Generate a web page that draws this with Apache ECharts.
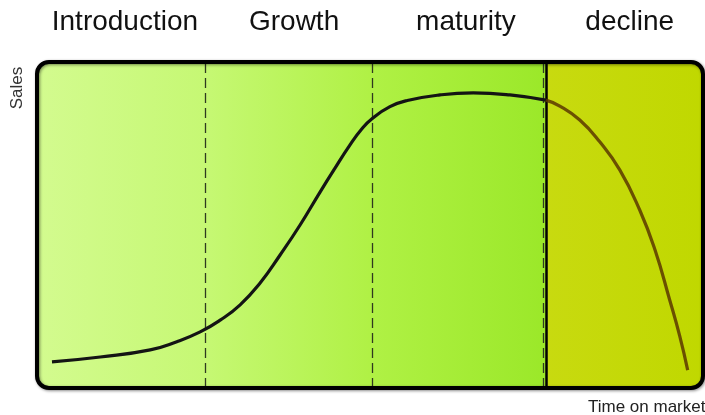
<!DOCTYPE html>
<html>
<head>
<meta charset="utf-8">
<script src="https://cdn.jsdelivr.net/npm/echarts@6/dist/echarts.min.js"></script>
<style>html,body{margin:0;padding:0;background:#fff}#c{width:705px;height:415px}</style>
</head>
<body>
<div id="c"></div>
<script>
// Stage names and label positions (x in "time" units 0..100)
const stageNames = ['Introduction', 'Growth', 'maturity', 'decline'];
const stageLabelX = [13.2, 38.6, 64.4, 89.0];
// Stage boundaries (dashed dividers) and start of decline block
const dividerX = [25.2, 50.3, 76.0];
const declineStart = 76.4;
// Sales curve: introduction → maturity (black)
const salesMain = [
  [2.25, 8.0], [9.5, 9.5], [17.0, 11.7], [21.0, 14.2], [24.5, 17.2], [27.5, 20.8],
  [30.5, 25.5], [33.5, 32.2], [36.5, 40.8], [39.5, 50.0], [42.5, 60.1], [44.7, 67.3],
  [47.0, 74.6], [48.7, 79.3], [50.3, 82.6], [53.0, 86.3], [55.6, 88.2], [60.5, 89.9],
  [65.5, 90.5], [71.0, 89.9], [76.4, 88.3]
];
// Sales curve: decline (brown)
const salesDecline = [
  [76.4, 88.3], [78.5, 86.5], [81.5, 82.2], [84.5, 75.5], [87.5, 66.9],
  [90.5, 54.6], [92.8, 42.3], [95.0, 27.0], [96.5, 16.0], [97.7, 5.5]
];
const yAxisName = 'Sales';
const xAxisName = 'Time on market';

const chart = echarts.init(document.getElementById('c'));
const option = {
  animation: false,
  grid: { left: 37, right: 2, top: 62, bottom: 27 },
  xAxis: { type: 'value', min: 0, max: 100, show: false },
  yAxis: { type: 'value', min: 0, max: 100, show: false },
  series: [
    {
      type: 'line', data: salesMain, smooth: 0.5, symbol: 'none', z: 5,
      lineStyle: { color: '#141414', width: 3.2 },
      markLine: {
        silent: true, symbol: 'none', label: { show: false },
        lineStyle: { color: '#2f3a20', width: 1.3, type: [10, 5] },
        data: dividerX.map(x => ({ xAxis: x }))
      }
    },
    {
      type: 'line', data: salesDecline, smooth: 0.5, symbol: 'none', z: 5,
      lineStyle: { color: 'rgba(90,55,0,0.85)', width: 3.2 },
      markLine: {
        silent: true, symbol: 'none', label: { show: false },
        lineStyle: { color: '#000', width: 2.5, type: 'solid' },
        data: [{ xAxis: declineStart }]
      }
    }
  ]
};
chart.setOption(option);

const p0 = chart.convertToPixel({ gridIndex: 0 }, [0, 100]);
const p1 = chart.convertToPixel({ gridIndex: 0 }, [100, 0]);
const pd = chart.convertToPixel({ gridIndex: 0 }, [declineStart, 0]);
const W = p1[0] - p0[0], H = p1[1] - p0[1];
const split = (pd[0] - p0[0]) / W;

const graphics = [
  {
    type: 'rect', z: -10, silent: true,
    shape: { x: p0[0], y: p0[1], width: W, height: H, r: 12 },
    style: {
      fill: new echarts.graphic.LinearGradient(0, 0, 1, 0, [
        { offset: 0, color: '#d3fb8f' },
        { offset: 0.25, color: '#c6f874' },
        { offset: 0.5, color: '#b0f145' },
        { offset: split, color: '#9be829' },
        { offset: 1, color: '#9be829' }
      ])
    }
  },
  {
    type: 'rect', z: -9, silent: true,
    shape: { x: pd[0], y: p0[1], width: p1[0] - pd[0], height: H, r: [0, 12, 12, 0] },
    style: {
      fill: new echarts.graphic.LinearGradient(0, 0, 1, 0, [
        { offset: 0, color: '#c8da10' },
        { offset: 1, color: '#c0d800' }
      ])
    }
  },
  {
    type: 'rect', z: 20, silent: true,
    shape: { x: p0[0], y: p0[1], width: W, height: H, r: 12 },
    style: {
      fill: null, stroke: '#000', lineWidth: 4,
      shadowBlur: 3, shadowColor: 'rgba(0,0,0,0.45)', shadowOffsetX: 1, shadowOffsetY: 1
    }
  },
  {
    type: 'text', z: 30, silent: true,
    x: 17, y: 88, rotation: Math.PI / 2,
    style: {
      text: yAxisName, fill: '#333', font: '17px "Liberation Sans", Arial, sans-serif',
      align: 'center', verticalAlign: 'middle'
    }
  },
  {
    type: 'text', z: 30, silent: true,
    x: 588, y: 407,
    style: {
      text: xAxisName, fill: '#222', font: '17px "Liberation Sans", Arial, sans-serif',
      align: 'left', verticalAlign: 'middle'
    }
  }
];
stageNames.forEach((name, i) => {
  const px = chart.convertToPixel({ gridIndex: 0 }, [stageLabelX[i], 0])[0];
  graphics.push({
    type: 'text', z: 30, silent: true, x: px, y: 22,
    style: {
      text: name, fill: '#111', font: '28px "Liberation Sans", Arial, sans-serif',
      align: 'center', verticalAlign: 'middle'
    }
  });
});
chart.setOption({ graphic: graphics });
</script>
</body>
</html>
